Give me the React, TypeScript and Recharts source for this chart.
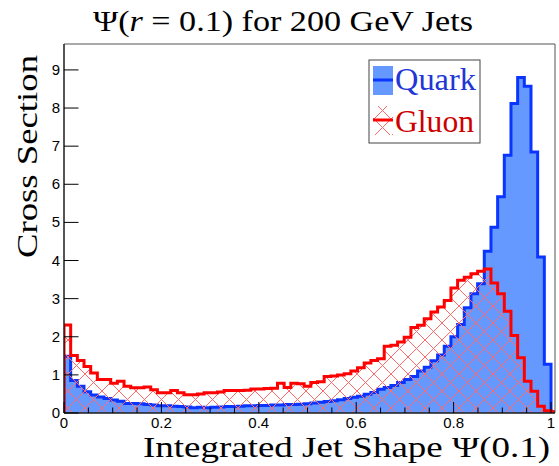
import { Area, ComposedChart, ReferenceArea, XAxis, YAxis } from 'recharts'

// 73 bins across [0, 1], one more partly visible at the right frame edge
const binCount = 73
const quark = [
  1.49, 0.85, 0.7, 0.56, 0.47, 0.42, 0.38, 0.34, 0.31, 0.25,
  0.25, 0.24, 0.22, 0.21, 0.19, 0.19, 0.18, 0.17, 0.16, 0.14,
  0.15, 0.14, 0.15, 0.16, 0.17, 0.17, 0.18, 0.19, 0.19, 0.2,
  0.2, 0.21, 0.21, 0.22, 0.22, 0.23, 0.24, 0.26, 0.28, 0.3,
  0.32, 0.35, 0.38, 0.41, 0.44, 0.49, 0.54, 0.62, 0.67, 0.72,
  0.8, 0.88, 0.96, 1.1, 1.2, 1.37, 1.52, 1.75, 2.0, 2.32,
  2.76, 3.13, 3.39, 4.24, 4.87, 5.67, 6.76, 8.12, 8.8, 8.57,
  6.85, 4.09, 1.28, 0.03,
]
const gluon = [
  2.31, 1.51, 1.38, 1.22, 1.05, 0.88, 0.88, 0.78, 0.83, 0.7,
  0.66, 0.66, 0.68, 0.61, 0.53, 0.53, 0.59, 0.53, 0.48, 0.48,
  0.5, 0.53, 0.53, 0.55, 0.59, 0.59, 0.59, 0.6, 0.63, 0.63,
  0.64, 0.65, 0.78, 0.67, 0.78, 0.77, 0.7, 0.8, 0.82, 0.96,
  0.97, 1.0, 1.03, 1.1, 1.19, 1.31, 1.38, 1.42, 1.75, 1.78,
  1.86, 1.99, 2.24, 2.3, 2.47, 2.65, 2.78, 2.95, 3.28, 3.48,
  3.56, 3.65, 3.72, 3.78, 3.41, 3.13, 2.67, 2.03, 1.45, 0.83,
  0.57, 0.18, 0.06, 0.03,
]
const xTicks = [
  0, 0.05, 0.1, 0.15, 0.2, 0.25, 0.3, 0.35, 0.4, 0.45, 0.5,
  0.55, 0.6, 0.65, 0.7, 0.75, 0.8, 0.85, 0.9, 0.95, 1,
]
const xTickLabels: Record<string, string> = {
  '0': '0', '0.2': '0.2', '0.4': '0.4', '0.6': '0.6', '0.8': '0.8', '1': '1',
}
const yTicks = [0, 1, 2, 3, 4, 5, 6, 7, 8, 9]
const legendItems = [
  { name: 'Quark', text: '#2236d6' },
  { name: 'Gluon', text: '#cc0000' },
]

const xMax = 1.0082
const yMax = 9.68
const QUARK_FILL = '#6699ff'
const QUARK_LINE = '#0a35ff'
const GLUON_LINE = '#ff0000'
const HATCH = '#ff6a6a'
const TEX = "'Liberation Serif', 'DejaVu Serif', serif"
const SANS = "'Liberation Sans', Arial, sans-serif"

// histogram as step points: opening edge at 0, one point per bin, closing edge
const data = [
  { x: 0, quark: 0, gluon: 0 },
  ...quark.map((q, i) => ({ x: i / binCount, quark: q, gluon: gluon[i] })),
  { x: quark.length / binCount, quark: 0, gluon: 0 },
]

const XTick = (props: any) => {
  const { x, y, payload } = props
  const label = xTickLabels[String(payload.value)]
  return (
    <g>
      <line x1={x} x2={x} y1={y} y2={y - (label ? 11 : 5.5)} stroke="#000" strokeWidth={1} />
      {label && (
        <text x={x} y={y + 15} textAnchor="middle" style={{ fontFamily: SANS, fontSize: 15 }} fill="#000">
          {label}
        </text>
      )}
    </g>
  )
}

const YTick = (props: any) => {
  const { x, y, payload } = props
  return (
    <g>
      <line x1={x} x2={x + 14.5} y1={y} y2={y} stroke="#000" strokeWidth={1} />
      <text x={x - 4} y={y + 5} textAnchor="end" style={{ fontFamily: SANS, fontSize: 15 }} fill="#000">
        {payload.value}
      </text>
    </g>
  )
}

const texStyle = (size: number) => ({ fontFamily: TEX, fontSize: size })

export default function App() {
  return (
    <div style={{ position: 'absolute', left: 0, top: 0, width: 559, height: 466, background: '#fff' }}>
      <svg width={0} height={0} style={{ position: 'absolute' }}>
        <defs>
          <pattern id="gluonHatch" patternUnits="userSpaceOnUse" width={17} height={17}>
            <line x1={0} y1={0} x2={17} y2={17} stroke={HATCH} strokeWidth={1} />
            <line x1={0} y1={17} x2={17} y2={0} stroke={HATCH} strokeWidth={1} />
          </pattern>
        </defs>
      </svg>
      <ComposedChart
        width={559}
        height={466}
        data={data}
        margin={{ top: 44, right: 4, bottom: 52, left: 63 }}
      >
        <XAxis
          type="number"
          dataKey="x"
          domain={[0, xMax]}
          ticks={xTicks}
          interval={0}
          allowDataOverflow
          height={1}
          tickSize={0}
          tickMargin={0}
          tickLine={false}
          axisLine={{ stroke: '#000', strokeWidth: 1 }}
          tick={(p: any) => <XTick {...p} />}
        />
        <YAxis
          type="number"
          domain={[0, yMax]}
          ticks={yTicks}
          interval={0}
          allowDataOverflow
          width={1}
          tickSize={0}
          tickMargin={0}
          tickLine={false}
          axisLine={{ stroke: '#000', strokeWidth: 1 }}
          tick={(p: any) => <YTick {...p} />}
        />
        <Area
          type="stepAfter"
          dataKey="quark"
          stroke={QUARK_LINE}
          strokeWidth={3}
          fill={QUARK_FILL}
          fillOpacity={1}
          dot={false}
          activeDot={false}
          isAnimationActive={false}
        />
        <Area
          type="stepAfter"
          dataKey="gluon"
          stroke={GLUON_LINE}
          strokeWidth={3}
          fill="url(#gluonHatch)"
          fillOpacity={1}
          dot={false}
          activeDot={false}
          isAnimationActive={false}
        />
        <ReferenceArea
          x1={0}
          x2={xMax}
          y1={0}
          y2={yMax}
          ifOverflow="visible"
          fill="none"
          fillOpacity={0}
          stroke="#555"
          strokeWidth={1}
        />
      </ComposedChart>
      <svg
        width={559}
        height={466}
        style={{ position: 'absolute', left: 0, top: 0, pointerEvents: 'none' }}
      >
        <text x={93} y={31} style={texStyle(30)} fill="#000" textLength={380} lengthAdjust="spacingAndGlyphs">
          Ψ(<tspan fontStyle="italic">r</tspan> = 0.1) for 200 GeV Jets
        </text>
        <text x={143} y={457} style={texStyle(29)} fill="#000" textLength={407} lengthAdjust="spacingAndGlyphs">
          Integrated Jet Shape Ψ(0.1)
        </text>
        <text
          transform="translate(37,258) rotate(-90)"
          x={0}
          y={0}
          style={texStyle(30)}
          fill="#000"
          textLength={203}
          lengthAdjust="spacingAndGlyphs"
        >
          Cross Section
        </text>
        <rect x={369} y={60} width={111} height={83} fill="#fff" stroke="#444" strokeWidth={1} />
        <rect x={373} y={66} width={20} height={29} fill={QUARK_FILL} />
        <line x1={373} x2={393} y1={80} y2={80} stroke={QUARK_LINE} strokeWidth={3} />
        <rect x={373} y={106} width={20} height={29} fill="url(#gluonHatch)" />
        <line x1={373} x2={393} y1={120} y2={120} stroke={GLUON_LINE} strokeWidth={3} />
        <text x={395} y={90} style={texStyle(31)} fill={legendItems[0].text} textLength={81} lengthAdjust="spacingAndGlyphs">
          {legendItems[0].name}
        </text>
        <text x={395} y={132} style={texStyle(31)} fill={legendItems[1].text} textLength={79} lengthAdjust="spacingAndGlyphs">
          {legendItems[1].name}
        </text>
      </svg>
    </div>
  )
}
